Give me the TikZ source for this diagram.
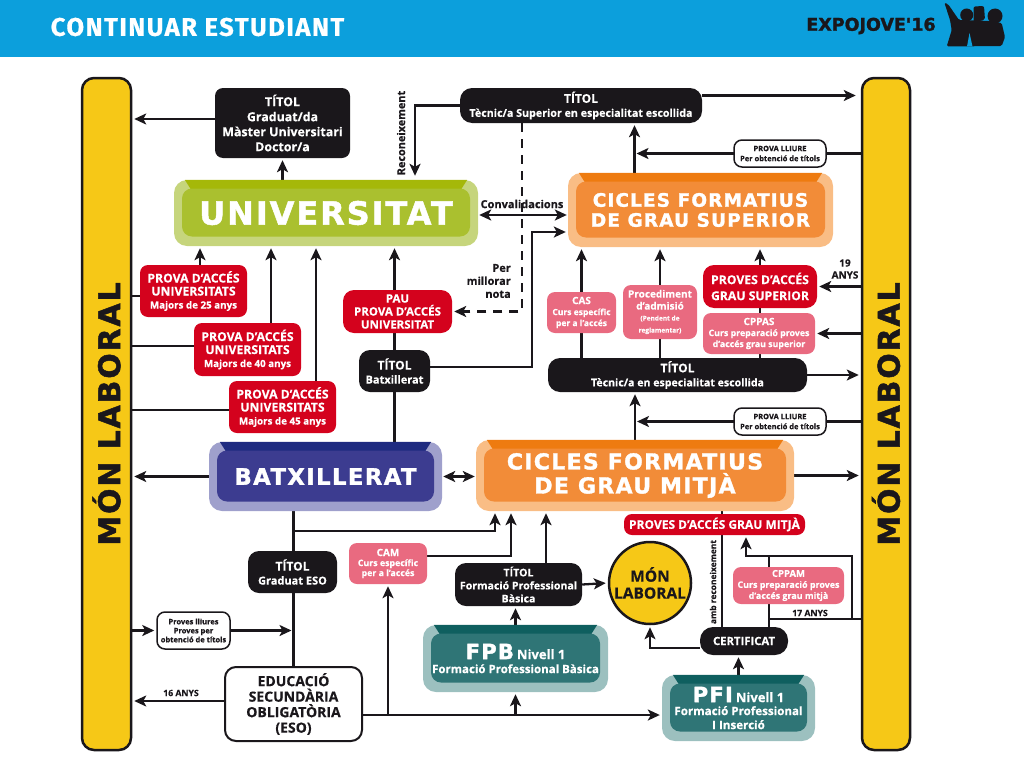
\documentclass[tikz,border=0pt]{standalone}
\usepackage{fontspec}
\setmainfont[BoldFeatures={FakeBold=0.4}]{Open Sans}
\newfontfamily\widefont[LetterSpace=6,BoldFeatures={FakeBold=1.5}]{DejaVu Sans}
\newfontfamily\titlefont[LetterSpace=6,BoldFeatures={FakeBold=0.6}]{Fira Sans}
\newfontfamily\logofont[BoldFeatures={FakeBold=1.5}]{DejaVu Sans}
\usetikzlibrary{arrows.meta,backgrounds}
\definecolor{headblue}{HTML}{0C9FDC}
\definecolor{baryellow}{HTML}{F6C817}
\definecolor{boxblack}{HTML}{1A171B}
\definecolor{boxred}{HTML}{D4021D}
\definecolor{boxpink}{HTML}{E96A80}
\definecolor{unilt}{HTML}{C6D57C}
\definecolor{unidk}{HTML}{A5B809}
\definecolor{unimd}{HTML}{AAC02F}
\definecolor{orglt}{HTML}{F9BD85}
\definecolor{orgdk}{HTML}{EE7B10}
\definecolor{orgmd}{HTML}{F28C38}
\definecolor{blult}{HTML}{9FA0CC}
\definecolor{bludk}{HTML}{1E2A80}
\definecolor{blumd}{HTML}{3C3C90}
\definecolor{tealt}{HTML}{9CC0BF}
\definecolor{teadk}{HTML}{0F5F5F}
\definecolor{teamd}{HTML}{2F7576}
\newcommand\fsz[2]{\fontsize{#1}{#2}\selectfont\bfseries}
\tikzset{
  conn/.style={line width=2.3pt,draw=boxblack},
  arr/.style={conn,-{Stealth[length=12pt,width=11pt,inset=3pt]},shorten >=2pt},
  arrtwo/.style={conn,{Stealth[length=12pt,width=11pt,inset=3pt]}-{Stealth[length=12pt,width=11pt,inset=3pt]},shorten >=1pt,shorten <=1pt},
  plain/.style={inner sep=0pt,align=center,rounded corners=8pt},
  blackbox/.style={plain,fill=boxblack,text=white,font=\fsz{12.4}{15}},
  redbox/.style={plain,fill=boxred,text=white,font=\fsz{12.2}{13}},
  pinkbox/.style={plain,fill=boxpink,text=white,font=\fsz{8.8}{11}},
  whitebox/.style={plain,fill=white,draw=boxblack,line width=1.5pt,text=boxblack,font=\fsz{7.5}{10}},
  bar/.style={rounded corners=12pt,fill=baryellow,draw=boxblack,line width=2.5pt,inner sep=0pt},
  lbl/.style={inner sep=0pt,align=center,text=boxblack,font=\fsz{10}{12}},
}
% bevelled box: name, centre, width, height, colour prefix, font, text
\newcommand\bevelbox[7]{
  \node[rounded corners=13pt,fill=#5lt,minimum width=#3pt,minimum height=#4pt,inner sep=0pt] (#1) at (#2) {};
  \fill[#5dk] ([xshift=11pt]#1.north west) -- ([xshift=-11pt]#1.north east)
    -- ([xshift=-18pt,yshift=-11pt]#1.north east) -- ([xshift=18pt,yshift=-11pt]#1.north west) -- cycle;
  \node[rounded corners=10pt,fill=#5md,minimum width=#3pt-16pt,minimum height=#4pt-18pt,inner sep=0pt,yshift=0.5pt] (#1in) at (#2) {};
  \node[inner sep=0pt,align=center,text=white,font=#6] (#1txt) at (#2) {#7};
}
\begin{document}
\begin{tikzpicture}[x=1pt,y=-1pt]
  \useasboundingbox (0,0) rectangle (1024,768);
  \fill[headblue] (0,0) rectangle (1024,57);
  \node[inner sep=0pt,text=white,font=\titlefont\fsz{25.5}{28}] (title) at (197.5,27) {CONTINUAR ESTUDIANT};
  \node[inner sep=0pt,text=boxblack,font=\logofont\fsz{17.5}{18}] (expo) at (871,26) {EXPOJOVE'16};
  % group of people
  \fill[boxblack] (966.7,15) circle (6.5pt) (995,16) circle (7.5pt);
  \fill[boxblack,rounded corners=2pt] (973.5,6.5) -- (984,6) -- (985,20) -- (973.5,22) -- cycle;
  \fill[boxblack,rounded corners=1.5pt] (944.3,2.5) -- (948.3,4.5) -- (959,20) -- (990,21) -- (1001.7,23)
    -- (1003.3,30) -- (1005,37) -- (1001.7,46) -- (946.7,46.5) -- (951.7,30) -- (950,20) -- cycle;
  \fill[headblue] (969.5,33) -- (972.5,46.5) -- (967,46.5) -- cycle;
  % yellow bars
  \node[bar,minimum width=49pt,minimum height=672pt] (barL) at (106.5,414) {};
  \node[bar,minimum width=48pt,minimum height=672pt] (barR) at (886,414) {};
  \node[rotate=90,inner sep=0pt,text=boxblack,font=\widefont\fsz{30}{34}] (barLtxt) at (barL) {MÓN LABORAL};
  \node[rotate=90,inner sep=0pt,text=boxblack,font=\widefont\fsz{30}{34}] (barRtxt) at (barR) {MÓN LABORAL};
  % big boxes
  \bevelbox{uni}{326,213}{304}{66}{uni}{\widefont\fsz{32}{36}}{UNIVERSITAT}
  \bevelbox{gs}{700.5,210}{265}{74}{org}{\widefont\fsz{18.5}{20}}{CICLES FORMATIUS\\DE GRAU SUPERIOR}
  \bevelbox{batx}{325.5,476.5}{233}{69}{blu}{\widefont\fsz{22.8}{25}}{BATXILLERAT}
  \bevelbox{gm}{635,475.5}{318}{71}{org}{\widefont\fsz{22}{24}}{CICLES FORMATIUS\\DE GRAU MITJÀ}
  \bevelbox{fpb}{515.5,658.5}{185}{67}{tea}{\fsz{11.5}{14}}{{\widefont\fsz{21}{24}FPB} {\fsz{13}{16}Nivell 1}\\Formació Professional Bàsica}
  \bevelbox{pfi}{738.5,708}{153}{66}{tea}{\fsz{11.6}{14}}{{\widefont\fsz{21}{22}PFI} {\fsz{13}{16}Nivell 1}\\[-1pt]Formació Professional\\I Inserció}
  % black boxes
  \node[blackbox,minimum width=135pt,minimum height=70pt] (grad) at (282.5,123) {TÍTOL\\Graduat/da\\Màster Universitari\\Doctor/a};
  \node[blackbox,minimum width=242pt,minimum height=35pt,rounded corners=12pt,font=\fsz{10.7}{14}] (titsup) at (581,105.5) {{\fsz{12}{14}TÍTOL}\\Tècnic/a Superior en especialitat escollida};
  \node[blackbox,minimum width=259pt,minimum height=34pt,rounded corners=12pt,font=\fsz{10.6}{14}] (tittec) at (677.5,375) {{\fsz{12}{14}TÍTOL}\\Tècnic/a en especialitat escollida};
  \node[blackbox,minimum width=71pt,minimum height=42pt,rounded corners=11pt,font=\fsz{11}{14}] (titbat) at (394.5,371) {{\fsz{12}{14}TÍTOL}\\Batxillerat};
  \node[blackbox,minimum width=89pt,minimum height=42pt,rounded corners=11pt,font=\fsz{11}{14}] (titeso) at (292.5,572) {{\fsz{12}{14}TÍTOL}\\Graduat ESO};
  \node[blackbox,minimum width=127pt,minimum height=43pt,rounded corners=11pt,font=\fsz{10.6}{13}] (titfpb) at (518.5,584.5) {TÍTOL\\Formació Professional\\Bàsica};
  \node[blackbox,minimum width=88pt,minimum height=28pt,rounded corners=13pt,font=\fsz{11.3}{13}] (cert) at (744,641) {CERTIFICAT};
  % red boxes
  \node[redbox,minimum width=107pt,minimum height=52pt] (pvint) at (193.5,291) {PROVA D'ACCÉS\\UNIVERSITATS\\\fsz{9.8}{13}Majors de 25 anys};
  \node[redbox,minimum width=107pt,minimum height=53pt] (pvqua) at (247.5,349.5) {PROVA D'ACCÉS\\UNIVERSITATS\\\fsz{9.8}{13}Majors de 40 anys};
  \node[redbox,minimum width=107pt,minimum height=52pt] (pvcin) at (282.5,407) {PROVA D'ACCÉS\\UNIVERSITATS\\\fsz{9.8}{13}Majors de 45 anys};
  \node[redbox,minimum width=109pt,minimum height=43pt,rounded corners=11pt,font=\fsz{11.5}{13}] (pau) at (397.5,311.5) {PAU\\PROVA D'ACCÉS\\UNIVERSITAT};
  \node[redbox,minimum width=114pt,minimum height=43pt,rounded corners=11pt,font=\fsz{12.2}{16}] (psup) at (760,286.5) {PROVES D'ACCÉS\\GRAU SUPERIOR};
  \node[redbox,minimum width=181pt,minimum height=21pt,font=\fsz{12}{13}] (pgm) at (714.5,524.5) {PROVES D'ACCÉS GRAU MITJÀ};
  % pink boxes
  \node[pinkbox,minimum width=69pt,minimum height=41pt,font=\fsz{8.5}{11}] (cas) at (581.5,312.5) {{\fsz{10}{11}CAS}\\Curs específic\\per a l'accés};
  \node[pinkbox,minimum width=74pt,minimum height=54pt,font=\fsz{10}{12}] (proc) at (660,312) {Procediment\\d'admisió\\[-1pt]\fsz{6.5}{8}(Pendent de\\\fsz{6.5}{8}reglamentar)};
  \node[pinkbox,minimum width=112pt,minimum height=41pt] (cppas) at (759,333.5) {{\fsz{10}{11}CPPAS}\\Curs preparació proves\\d'accés grau superior};
  \node[pinkbox,minimum width=78pt,minimum height=41pt,font=\fsz{8.8}{10}] (cam) at (388,563.5) {{\fsz{10}{11}CAM}\\Curs específic\\per a l'accés};
  \node[pinkbox,minimum width=111pt,minimum height=37pt,font=\fsz{8.9}{11}] (cppam) at (788.5,585.5) {{\fsz{9.5}{10}CPPAM}\\Curs preparació proves\\d'accés grau mitjà};
  % white boxes
  \node[whitebox,minimum width=92pt,minimum height=27pt] (lliures) at (780,153.5) {PROVA LLIURE\\Per obtenció de títols};
  \node[whitebox,minimum width=92pt,minimum height=27pt] (lliuretec) at (780,421.5) {PROVA LLIURE\\Per obtenció de títols};
  \node[whitebox,minimum width=73pt,minimum height=37pt,font=\fsz{7.5}{9}] (lliureso) at (193.5,630.5) {Proves lliures\\Proves per\\obtenció de títols};
  \node[whitebox,minimum width=137pt,minimum height=74pt,rounded corners=11pt,line width=2pt,font=\fsz{14}{15.5}] (eso) at (293.5,704) {EDUCACIÓ\\SECUNDÀRIA\\OBLIGATÒRIA\\(ESO)};
  % yellow circle
  \node[circle,fill=baryellow,draw=boxblack,line width=2.5pt,minimum size=82pt,inner sep=0pt,align=center,text=boxblack,font=\fsz{15.5}{17}] (mon) at (650,583) {MÓN\\LABORAL};
  % labels
  \node[lbl,rotate=90,font=\fsz{10.9}{11}] (recon) at (401,133) {Reconeixement};
  \node[lbl,font=\fsz{11}{12}] (conv) at (522,204) {Convalidacions};
  \node[lbl,font=\fsz{11}{13},align=right,anchor=east] (millora) at (511,281) {Per\\millorar\\nota};
  \node[lbl] (dinou) at (845,269) {19\\ANYS};
  \node[lbl,font=\fsz{8.7}{9}] (disset) at (810,613) {17 ANYS};
  \node[lbl,font=\fsz{8.7}{9}] (setze) at (181,693) {16 ANYS};
  \node[lbl,rotate=90,font=\fsz{8.4}{9}] (ambrec) at (713,582) {amb reconeixement};
  % connectors
  \coordinate (kbat) at (532,232);
  \coordinate (kbatx) at (293.5,531);
  \coordinate (keso) at (362,715);
  \coordinate (ksets) at (769,619);
  \coordinate (ktop) at (769,556);
  \coordinate (kright) at (852,619);
  \begin{scope}[on background layer]
    \draw[arr] ([yshift=4pt]grad.west) -- ([yshift=4pt]grad.west -| barL.east);
    \draw[arr] (grad |- uni.north) -- (grad.south);
    \draw[arr,shorten >=4pt] (titsup.west) -| ([xshift=89pt]uni.north);
    \draw[arr,shorten >=5pt] ([yshift=10pt]titsup.east) -- ([yshift=10pt]titsup.east -| barR.west);
    \draw[arr] ([xshift=-66pt]gs.north) -- ([xshift=-66pt]gs.north |- titsup.south);
    \draw[arr] (barR.west |- lliures) -- ([xshift=-66pt]gs.north |- lliures);
    \draw[arrtwo] ([yshift=-2pt]uni.east) -- ([yshift=-2pt]uni.east -| gs.west);
    \draw[arr,dashed,dash pattern=on 9pt off 7pt] ([xshift=-59pt]titsup.south) |- (pau.east);
    \draw[arr] ([yshift=4pt]titbat.east) -| (kbat) -- (kbat -| gs.west);
    \draw[arr] (cas |- tittec.north) -- (cas |- gs.south);
    \draw[arr] (proc |- tittec.north) -- (proc |- gs.south);
    \draw[arr] (psup |- tittec.north) -- (psup |- gs.south);
    \draw[arr] (barR.west |- psup) -- (psup.east);
    \draw[arr] (barR.west |- cppas) -- (cppas.east);
    \draw[arr] (tittec.east) -- (tittec.east -| barR.west);
    \draw[arr] (gm.north) -- (gm.north |- tittec.south);
    \draw[arr] (barR.west |- lliuretec) -- (gm.north |- lliuretec);
    \draw[conn] ([yshift=-5pt]pvint.west) -- ([yshift=-5pt]pvint.west -| barL.east);
    \draw[conn] ([yshift=3.5pt]pvqua.west) -- ([yshift=3.5pt]pvqua.west -| barL.east);
    \draw[conn] ([yshift=-3pt]pvcin.west) -- ([yshift=-3pt]pvcin.west -| barL.east);
    \draw[arr] ([xshift=6.5pt]pvint.north) -- ([xshift=6.5pt]pvint.north |- uni.south);
    \draw[arr] ([xshift=23.5pt]pvqua.north) -- ([xshift=23.5pt]pvqua.north |- uni.south);
    \draw[arr] ([xshift=33.5pt]pvcin.north) -- ([xshift=33.5pt]pvcin.north |- uni.south);
    \draw[arr] (titbat |- batx.north) -- (titbat |- uni.south);
    \draw[arr] (batx.west) -- (batx.west -| barL.east);
    \draw[arrtwo] (batx.east) -- (batx.east -| gm.west);
    \draw[arr] (gm.east) -- (gm.east -| barR.west);
    \draw[conn] (eso |- batx.south) -- (eso.north);
    \draw[arr] (kbatx) -| ([xshift=-140pt]gm.south);
    \draw[arr] ([yshift=7.5pt]cam.east) -| ([xshift=-124pt]gm.south);
    \draw[arr] ([xshift=27.5pt]titfpb.north) -- ([xshift=27.5pt]titfpb.north |- gm.south);
    \draw[arr] (titfpb.east) -- (mon.west);
    \draw[arr] (fpb.north) -- (fpb.north |- titfpb.south);
    \draw[arr] (keso) -- (keso -| pfi.west);
    \draw[arr] (cam |- keso) -- (cam.south);
    \draw[arr] (fpb |- keso) -- (fpb.south);
    \draw[arr] (barL.east |- lliureso) -- (lliureso.west);
    \draw[arr] (lliureso.east) -- (eso.north |- lliureso);
    \draw[arr] ([yshift=3pt]eso.west) -- ([yshift=3pt]eso.west -| barL.east);
    \draw[arr] ([yshift=-7pt]cert.west) -| (mon.south);
    \draw[arr] (pfi.north) -- (pfi.north |- cert.south);
    \draw[conn] ([xshift=-22pt]cert.north) -- ([xshift=-22pt]cert.north |- gm.south);
    \draw[conn] (barR.west |- ksets) -- (ksets);
    \draw[conn] ([xshift=25pt]cert.north) -- (ktop);
    \draw[arr] (kright) |- (ktop) -| ([xshift=31.5pt]pgm.south);
  \end{scope}
\end{tikzpicture}
\end{document}
